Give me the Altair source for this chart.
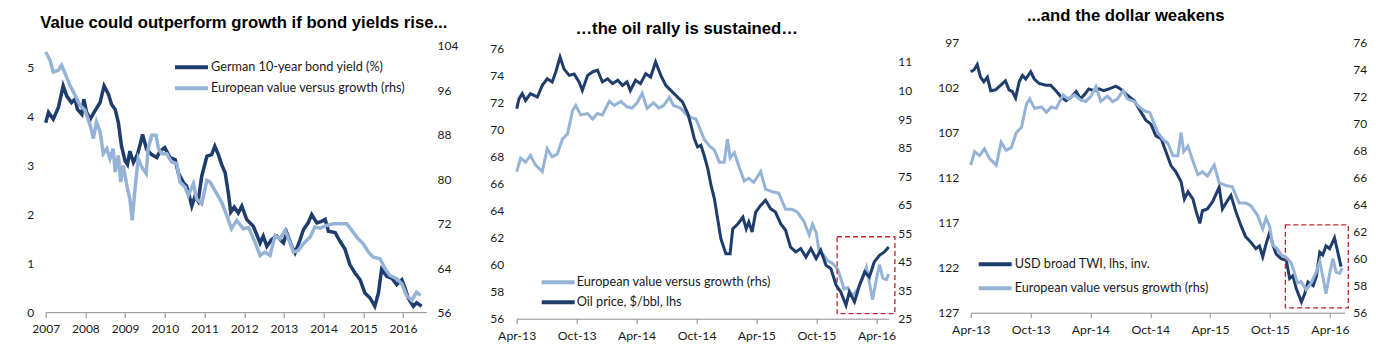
import altair as alt
import pandas as pd

# ---------------- Panel 1: German 10y yield vs European value/growth ----------------
p1_yield_years = [2007.00, 2007.07, 2007.19, 2007.32, 2007.44, 2007.53, 2007.65, 2007.74, 2007.80, 2007.91,
                  2007.96, 2008.03, 2008.12, 2008.24, 2008.37, 2008.47, 2008.58, 2008.66, 2008.75, 2008.83,
                  2008.91, 2009.00, 2009.06, 2009.12, 2009.21, 2009.31, 2009.38, 2009.44, 2009.54, 2009.67,
                  2009.80, 2009.88, 2010.00, 2010.13, 2010.26, 2010.34, 2010.47, 2010.55, 2010.62, 2010.68,
                  2010.76, 2010.84, 2010.93, 2011.06, 2011.18, 2011.26, 2011.35, 2011.43, 2011.52, 2011.60,
                  2011.66, 2011.75, 2011.85, 2011.94, 2012.06, 2012.23, 2012.40, 2012.48, 2012.57, 2012.69,
                  2012.82, 2012.99, 2013.07, 2013.20, 2013.28, 2013.41, 2013.49, 2013.61, 2013.70, 2013.83,
                  2013.95, 2014.04, 2014.12, 2014.29, 2014.41, 2014.54, 2014.66, 2014.79, 2014.92, 2015.04,
                  2015.17, 2015.29, 2015.38, 2015.46, 2015.59, 2015.72, 2015.84, 2015.97, 2016.05, 2016.13,
                  2016.26, 2016.34, 2016.47]
p1_bond_yield = [3.87, 4.08, 3.94, 4.18, 4.62, 4.41, 4.28, 4.35, 4.14, 4.04,
                 4.35, 4.08, 3.94, 4.11, 4.28, 4.62, 4.45, 4.24, 4.14, 3.87,
                 3.39, 3.09, 3.02, 3.29, 3.06, 3.22, 3.43, 3.63, 3.33, 3.22,
                 3.16, 3.29, 3.36, 3.16, 3.12, 2.85, 2.65, 2.58, 2.37, 2.17,
                 2.37, 2.27, 2.78, 3.19, 3.22, 3.39, 3.22, 3.02, 2.85, 2.44,
                 2.05, 2.15, 2.03, 2.17, 1.90, 1.76, 1.42, 1.56, 1.35, 1.49,
                 1.56, 1.42, 1.63, 1.35, 1.22, 1.49, 1.69, 1.83, 2.00, 1.83,
                 1.86, 1.90, 1.66, 1.63, 1.46, 1.29, 0.98, 0.81, 0.67, 0.40,
                 0.30, 0.13, 0.40, 0.88, 0.74, 0.70, 0.57, 0.67, 0.50, 0.30,
                 0.13, 0.20, 0.13]
p1_value_years = [2007.00, 2007.11, 2007.19, 2007.32, 2007.40, 2007.49, 2007.61, 2007.74, 2007.86, 2007.99,
                  2008.12, 2008.20, 2008.28, 2008.37, 2008.45, 2008.54, 2008.62, 2008.70, 2008.75, 2008.83,
                  2008.89, 2008.95, 2009.06, 2009.12, 2009.18, 2009.25, 2009.33, 2009.42, 2009.53, 2009.58,
                  2009.67, 2009.78, 2009.84, 2009.92, 2010.05, 2010.17, 2010.30, 2010.38, 2010.51, 2010.59,
                  2010.72, 2010.80, 2010.93, 2011.06, 2011.14, 2011.26, 2011.43, 2011.56, 2011.68, 2011.81,
                  2011.98, 2012.11, 2012.27, 2012.40, 2012.52, 2012.65, 2012.78, 2012.90, 2013.03, 2013.15,
                  2013.24, 2013.36, 2013.49, 2013.66, 2013.78, 2013.91, 2014.08, 2014.24, 2014.41, 2014.58,
                  2014.71, 2014.87, 2015.00, 2015.13, 2015.25, 2015.42, 2015.55, 2015.67, 2015.84, 2015.97,
                  2016.09, 2016.22, 2016.34, 2016.44]
p1_value_growth = [102.9, 101.4, 99.3, 99.6, 100.5, 99.0, 96.9, 95.1, 93.3, 92.4,
                   89.7, 87.3, 90.3, 88.5, 84.6, 85.5, 83.7, 85.5, 81.3, 84.3,
                   79.5, 82.5, 78.3, 76.5, 72.6, 78.3, 83.7, 82.2, 81.0, 85.5,
                   87.9, 87.9, 85.5, 84.6, 84.6, 83.1, 82.8, 79.5, 78.6, 77.1,
                   79.2, 76.5, 75.6, 79.8, 79.5, 78.0, 75.9, 73.5, 71.1, 72.6,
                   71.1, 71.3, 68.7, 66.3, 66.9, 66.3, 69.9, 69.3, 70.8, 68.7,
                   66.9, 67.2, 68.4, 69.6, 71.4, 71.2, 71.7, 72.0, 72.0, 72.0,
                   70.8, 69.3, 68.4, 66.9, 66.0, 65.7, 63.9, 62.7, 62.1, 61.2,
                   59.1, 58.2, 59.7, 59.1]

# ---------------- Panel 2: oil price ----------------
p2_oil_dates = ["2013-04-01", "2013-04-08", "2013-04-18", "2013-04-28", "2013-05-13", "2013-06-03", "2013-06-18",
                "2013-07-03", "2013-07-18", "2013-07-29", "2013-08-11", "2013-08-23", "2013-09-08", "2013-09-23",
                "2013-10-08", "2013-10-18", "2013-11-03", "2013-11-18", "2013-12-03", "2013-12-18", "2014-01-03",
                "2014-01-18", "2014-02-03", "2014-02-17", "2014-03-03", "2014-03-13", "2014-03-29", "2014-04-13",
                "2014-04-29", "2014-05-14", "2014-05-29", "2014-06-14", "2014-06-29", "2014-07-19", "2014-08-09",
                "2014-08-19", "2014-09-04", "2014-09-14", "2014-09-24", "2014-10-04", "2014-10-14", "2014-10-24",
                "2014-11-04", "2014-11-14", "2014-11-24", "2014-12-04", "2014-12-14", "2014-12-29", "2015-01-11",
                "2015-01-19", "2015-02-04", "2015-02-19", "2015-03-01", "2015-03-09", "2015-03-19", "2015-03-30",
                "2015-04-14", "2015-04-29", "2015-05-14", "2015-05-29", "2015-06-14", "2015-06-29", "2015-07-14",
                "2015-07-30", "2015-08-14", "2015-08-30", "2015-09-14", "2015-09-30", "2015-10-14", "2015-10-30",
                "2015-11-14", "2015-11-30", "2015-12-14", "2015-12-30", "2016-01-09", "2016-01-25", "2016-02-09",
                "2016-02-25", "2016-03-10", "2016-03-25", "2016-04-10", "2016-04-25", "2016-05-08"]
p2_oil_price = [98.6, 102.1, 103.9, 101.5, 103.9, 102.7, 106.8, 109.1, 108.0, 111.5,
                116.7, 112.6, 110.3, 110.8, 108.0, 105.0, 110.3, 111.5, 112.1, 108.0,
                109.1, 107.4, 108.6, 106.8, 108.0, 105.0, 108.6, 107.4, 110.9, 109.7,
                115.0, 110.3, 106.8, 104.5, 102.1, 101.0, 96.9, 92.8, 88.1, 85.2,
                85.8, 82.2, 77.6, 71.7, 67.1, 60.0, 53.0, 47.8, 47.8, 56.5,
                58.3, 60.6, 56.5, 58.9, 55.4, 62.4, 64.7, 66.5, 63.6, 62.4,
                58.3, 56.0, 50.1, 48.4, 49.6, 46.6, 49.6, 46.1, 49.0, 43.7,
                42.5, 36.7, 34.4, 29.7, 34.4, 30.9, 36.7, 41.4, 39.6, 44.9,
                47.2, 48.4, 50.1]

# European value versus growth, Apr-13 .. May-16 (panels 2 and 3)
vg_dates = ["2013-04-01", "2013-04-13", "2013-04-28", "2013-05-13", "2013-05-28", "2013-06-18", "2013-07-03",
            "2013-07-18", "2013-08-03", "2013-08-18", "2013-09-03", "2013-09-18", "2013-09-28", "2013-10-13",
            "2013-11-03", "2013-11-18", "2013-12-03", "2013-12-18", "2014-01-08", "2014-01-23", "2014-02-12",
            "2014-03-03", "2014-03-18", "2014-04-03", "2014-04-18", "2014-05-03", "2014-05-23", "2014-06-08",
            "2014-06-23", "2014-07-10", "2014-07-23", "2014-08-13", "2014-08-28", "2014-09-14", "2014-09-29",
            "2014-10-09", "2014-10-24", "2014-11-09", "2014-11-24", "2014-12-09", "2014-12-24", "2015-01-03",
            "2015-01-11", "2015-01-24", "2015-02-08", "2015-02-23", "2015-03-09", "2015-03-24", "2015-04-14",
            "2015-04-29", "2015-05-19", "2015-06-08", "2015-06-29", "2015-07-19", "2015-08-04", "2015-08-24",
            "2015-09-09", "2015-09-19", "2015-09-30", "2015-10-09", "2015-10-24", "2015-11-04", "2015-11-19",
            "2015-12-04", "2015-12-14", "2015-12-24", "2016-01-04", "2016-01-19", "2016-02-04", "2016-02-19",
            "2016-03-01", "2016-03-10", "2016-03-20", "2016-04-01", "2016-04-10", "2016-04-20", "2016-05-01",
            "2016-05-08"]
vg_values = [66.9, 67.9, 67.6, 68.1, 67.4, 66.9, 68.6, 68.0, 68.2, 69.3,
             69.7, 71.4, 71.8, 71.1, 71.2, 70.8, 71.2, 71.1, 72.1, 71.8,
             72.1, 71.7, 71.6, 72.0, 72.7, 71.6, 72.0, 71.6, 71.8, 72.4,
             71.8, 71.6, 71.2, 70.9, 70.8, 70.2, 69.3, 68.8, 68.5, 67.6,
             67.6, 69.3, 67.9, 68.3, 67.2, 66.2, 66.4, 66.1, 66.9, 65.6,
             65.4, 65.3, 64.1, 64.1, 63.9, 63.2, 62.2, 63.0, 62.4, 61.0,
             60.7, 60.3, 60.1, 59.7, 59.0, 58.2, 58.3, 57.7, 58.2, 59.0,
             59.8, 58.7, 57.4, 59.0, 60.0, 59.0, 58.9, 59.3]

# ---------------- Panel 3: USD broad TWI (inverted) ----------------
p3_usd_dates = ["2013-04-01", "2013-04-11", "2013-04-21", "2013-05-01", "2013-05-11", "2013-05-22", "2013-06-01",
                "2013-06-16", "2013-07-01", "2013-07-16", "2013-07-27", "2013-08-06", "2013-08-16", "2013-08-27",
                "2013-09-06", "2013-09-16", "2013-10-01", "2013-10-12", "2013-10-27", "2013-11-16", "2013-12-01",
                "2013-12-17", "2014-01-02", "2014-01-17", "2014-02-02", "2014-02-17", "2014-03-02", "2014-03-17",
                "2014-03-27", "2014-04-12", "2014-04-27", "2014-05-12", "2014-05-28", "2014-06-18", "2014-07-02",
                "2014-07-23", "2014-08-13", "2014-09-03", "2014-09-18", "2014-10-03", "2014-10-18", "2014-11-03",
                "2014-11-18", "2014-12-03", "2014-12-18", "2015-01-03", "2015-01-13", "2015-01-24", "2015-02-08",
                "2015-02-18", "2015-03-01", "2015-03-09", "2015-03-24", "2015-04-09", "2015-04-24", "2015-04-29",
                "2015-05-09", "2015-05-24", "2015-06-04", "2015-06-19", "2015-07-04", "2015-07-19", "2015-08-04",
                "2015-08-19", "2015-08-30", "2015-09-09", "2015-09-19", "2015-09-30", "2015-10-10", "2015-10-20",
                "2015-11-04", "2015-11-20", "2015-11-30", "2015-12-10", "2015-12-20", "2016-01-05", "2016-01-15",
                "2016-01-25", "2016-02-10", "2016-02-20", "2016-03-01", "2016-03-10", "2016-03-20", "2016-03-31",
                "2016-04-15", "2016-04-25", "2016-05-05"]
p3_usd_twi = [100.3, 100.1, 99.5, 100.9, 101.4, 100.9, 102.4, 102.3, 101.8, 101.3,
              102.3, 102.5, 103.2, 101.4, 100.7, 101.1, 100.3, 101.1, 101.6, 101.8,
              101.8, 102.4, 103.1, 103.5, 103.1, 102.5, 103.3, 102.7, 102.2, 102.4,
              102.2, 102.4, 102.2, 101.9, 102.2, 102.9, 103.5, 104.8, 105.7, 106.1,
              107.4, 107.7, 109.2, 110.7, 111.4, 112.5, 114.4, 113.6, 114.4, 115.8,
              117.1, 115.7, 115.5, 114.7, 113.5, 113.1, 115.5, 114.6, 114.0, 115.8,
              117.3, 118.6, 119.2, 119.9, 119.6, 120.8, 119.4, 118.1, 119.5, 120.5,
              121.0, 121.2, 123.2, 122.9, 124.3, 125.8, 124.9, 123.6, 124.0, 122.9,
              120.3, 120.6, 119.6, 119.9, 118.7, 120.3, 121.9]

# ---------------- Axis ticks, domains, annotations ----------------
p1_year_ticks = [2007, 2008, 2009, 2010, 2011, 2012, 2013, 2014, 2015, 2016]
p1_left_ticks = [0, 1, 2, 3, 4, 5]
p1_right_ticks = [56, 64, 72, 80, 88, 96, 104]
p2_left_ticks = [56, 58, 60, 62, 64, 66, 68, 70, 72, 74, 76]
p2_right_ticks = [25, 35, 45, 55, 65, 75, 85, 95, 105, 115]
p3_left_ticks = [97, 102, 107, 112, 117, 122, 127]
p3_right_ticks = [56, 58, 60, 62, 64, 66, 68, 70, 72, 74, 76]
month_ticks = [(2013, 4), (2013, 10), (2014, 4), (2014, 10), (2015, 4), (2015, 10), (2016, 4)]

p1_axis_line = {"start": [2007.0], "end": [2016.6], "level": [0.0]}
p2_box = {"start": ["2015-12-03"], "end": ["2016-05-27"], "top": [62.07], "bottom": [56.37]}
p3_box = {"start": ["2015-11-17"], "end": ["2016-05-27"], "top": [117.26], "bottom": [126.46]}

titles = ["Value could outperform growth if bond yields rise...",
          "\u2026the oil rally is sustained\u2026",
          "...and the dollar weakens"]
S_YIELD = "German 10-year bond yield (%)"
S_VALUE = "European value versus growth (rhs)"
S_OIL = "Oil price, $/bbl, lhs"
S_USD = "USD broad TWI, lhs, inv."

# ---------------- Styling ----------------
DARK = "#1f3d6c"
LIGHT = "#95b3d7"
RED = "#c0272d"
AXIS_GREY = "#8c8c8c"
TXT = "#1a1a1a"
LFONT = "Lato"
TFONT = "Liberation Sans"

W1, W2, W3 = 388.3, 372, 374
H1, H2, H3 = 270.7, 276.7, 270.7


def y_axis(values, orient, pad, **kw):
    return alt.Axis(values=values, orient=orient, domain=False, ticks=False, grid=False,
                    labelPadding=pad, labelFont=LFONT, labelFontSize=12, labelColor=TXT,
                    labelOverlap=False, title=None, **kw)


def time_scale(end):
    return alt.Scale(type="utc", domain=[alt.DateTime(year=2013, month=4, date=1, utc=True),
                                         alt.DateTime(year=2016, month=5, date=end, utc=True)])


def time_axis():
    return alt.Axis(values=[alt.DateTime(year=y, month=m, date=1, utc=True) for y, m in month_ticks],
                    labelExpr="utcFormat(datum.value, '%b-%y')", grid=False,
                    domainColor=AXIS_GREY, tickColor=AXIS_GREY, tickSize=5, labelPadding=6,
                    labelFont=LFONT, labelFontSize=12.3, labelColor=TXT, title=None,
                    labelFlush=False, labelOverlap=False)


def color_enc(domain, rng, lx, ly, rowpad, loff):
    return alt.Color("series:N", scale=alt.Scale(domain=domain, range=rng),
                     legend=alt.Legend(orient="none", legendX=lx, legendY=ly, title=None,
                                       symbolType="M-3,0H3", symbolSize=121, symbolStrokeWidth=4,
                                       labelOffset=loff, labelFont=LFONT, labelFontSize=12.7,
                                       labelColor=TXT, rowPadding=rowpad, padding=0, labelLimit=400))


def title(i, dx, off):
    return alt.TitleParams(text=titles[i], font=TFONT, fontSize=16.7, fontWeight="bold", color="#000000",
                           anchor="middle", frame="group", dx=dx, offset=off, baseline="alphabetic")


# ---------------- Panel 1 ----------------
df1a = pd.DataFrame({"t": p1_yield_years, "v": p1_bond_yield, "series": S_YIELD})
df1b = pd.DataFrame({"t": p1_value_years, "v": p1_value_growth, "series": S_VALUE})
df1r = pd.DataFrame(p1_axis_line)

x1_scale = alt.Scale(domain=[2007, 2016.78], nice=False, zero=False)
x1_axis = alt.Axis(values=p1_year_ticks, format="d", domain=False, grid=False, tickColor=AXIS_GREY,
                   tickSize=5, labelPadding=6, labelFont=LFONT, labelFontSize=12, labelColor=TXT,
                   title=None, labelFlush=False, labelOverlap=False)
c1 = color_enc([S_YIELD, S_VALUE], [DARK, LIGHT], 138.3, 17.7, 4, 12)
y1l_scale = alt.Scale(domain=[0, 5.513], nice=False, zero=False)
y1l_axis = y_axis(p1_left_ticks, "left", 12)

p1_left = alt.layer(
    alt.Chart(df1r).mark_rule(color=AXIS_GREY, strokeWidth=1).encode(
        x=alt.X("start:Q", scale=x1_scale, axis=x1_axis),
        x2="end:Q",
        y=alt.Y("level:Q", scale=y1l_scale, axis=y1l_axis)),
    alt.Chart(df1a).mark_line(strokeWidth=3.5).encode(
        x=alt.X("t:Q", scale=x1_scale, axis=x1_axis),
        y=alt.Y("v:Q", scale=y1l_scale, axis=y1l_axis),
        color=c1),
)
p1_right = alt.Chart(df1b).mark_line(strokeWidth=3.5).encode(
    x=alt.X("t:Q", scale=x1_scale, axis=x1_axis),
    y=alt.Y("v:Q", scale=alt.Scale(domain=[56, 104.69], nice=False, zero=False),
            axis=y_axis(p1_right_ticks, "right", 3)),
    color=c1)
panel1 = alt.layer(p1_left, p1_right).resolve_scale(y="independent").properties(
    width=W1, height=H1, title=title(0, 4, -5.2))

# ---------------- Panel 2 ----------------
df2a = pd.DataFrame({"date": vg_dates, "v": vg_values, "series": S_VALUE})
df2b = pd.DataFrame({"date": p2_oil_dates, "v": p2_oil_price, "series": S_OIL})
df2box = pd.DataFrame(p2_box)
x2_scale = time_scale(8)
x2_axis = time_axis()
c2 = color_enc([S_VALUE, S_OIL], [LIGHT, DARK], 34, 232.7, 3, 11)
y2l_scale = alt.Scale(domain=[56, 76.5], nice=False, zero=False)
y2l_axis = y_axis(p2_left_ticks, "left", 13)

p2_left = alt.layer(
    alt.Chart(df2a).mark_line(strokeWidth=3).encode(
        x=alt.X("date:T", scale=x2_scale, axis=x2_axis),
        y=alt.Y("v:Q", scale=y2l_scale, axis=y2l_axis),
        color=c2),
    alt.Chart(df2box).mark_rect(fillOpacity=0, stroke=RED, strokeWidth=1.3, strokeDash=[5, 3]).encode(
        x=alt.X("start:T", scale=x2_scale, axis=x2_axis),
        x2="end:T",
        y=alt.Y("top:Q", scale=y2l_scale, axis=y2l_axis),
        y2="bottom:Q"),
)
p2_right = alt.Chart(df2b).mark_line(strokeWidth=3).encode(
    x=alt.X("date:T", scale=x2_scale, axis=x2_axis),
    y=alt.Y("v:Q", scale=alt.Scale(domain=[25, 122.0], nice=False, zero=False),
            axis=y_axis(p2_right_ticks, "right", 9,
                        labelExpr="datum.value >= 100 ? substring(datum.label, 0, 2) : datum.label")),
    color=c2)
panel2 = alt.layer(p2_left, p2_right).resolve_scale(y="independent").properties(
    width=W2, height=H2, title=title(1, -16, -8.5))

# ---------------- Panel 3 ----------------
df3a = pd.DataFrame({"date": p3_usd_dates, "v": p3_usd_twi, "series": S_USD})
df3b = pd.DataFrame({"date": vg_dates, "v": vg_values, "series": S_VALUE})
df3box = pd.DataFrame(p3_box)
x3_scale = time_scale(16)
x3_axis = time_axis()
c3 = color_enc([S_USD, S_VALUE], [DARK, LIGHT], 17, 214.7, 7, 12)
y3l_scale = alt.Scale(domain=[97, 127], nice=False, zero=False, reverse=True)
y3l_axis = y_axis(p3_left_ticks, "left", 12)

p3_left = alt.layer(
    alt.Chart(df3a).mark_line(strokeWidth=3).encode(
        x=alt.X("date:T", scale=x3_scale, axis=x3_axis),
        y=alt.Y("v:Q", scale=y3l_scale, axis=y3l_axis),
        color=c3),
    alt.Chart(df3box).mark_rect(fillOpacity=0, stroke=RED, strokeWidth=1.3, strokeDash=[5, 3]).encode(
        x=alt.X("start:T", scale=x3_scale, axis=x3_axis),
        x2="end:T",
        y=alt.Y("top:Q", scale=y3l_scale, axis=y3l_axis),
        y2="bottom:Q"),
)
p3_right = alt.Chart(df3b).mark_line(strokeWidth=3).encode(
    x=alt.X("date:T", scale=x3_scale, axis=x3_axis),
    y=alt.Y("v:Q", scale=alt.Scale(domain=[56, 76], nice=False, zero=False),
            axis=y_axis(p3_right_ticks, "right", 8)),
    color=c3)
panel3 = alt.layer(p3_left, p3_right).resolve_scale(y="independent").properties(
    width=W3, height=H3, title=title(2, -32, -2))

chart = alt.hconcat(panel1, panel2, panel3, spacing=82, bounds="flush").resolve_scale(
    color="independent").resolve_legend(color="independent").properties(
    padding={"left": 26.7, "top": 8, "right": 0, "bottom": 0},
    background="white").configure_view(stroke=None)

chart.save("out.html", embed_options={"renderer": "svg", "actions": False})
